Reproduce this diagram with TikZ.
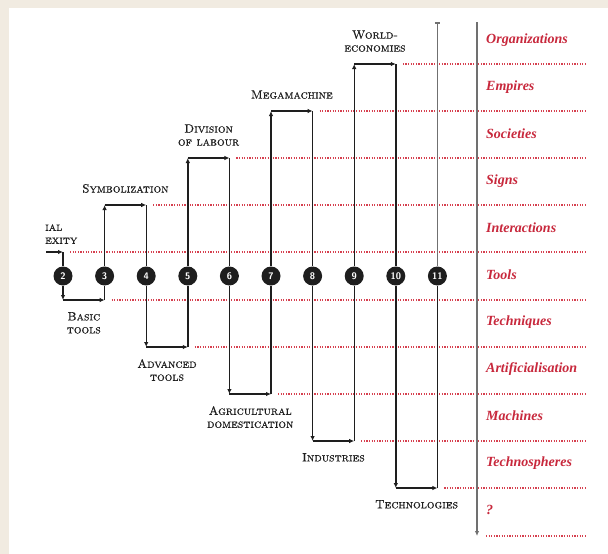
\documentclass[tikz,border=0pt]{standalone}
\usepackage{fontspec}
\usetikzlibrary{arrows.meta,positioning}
\newfontfamily\realmfont{Liberation Serif}
\newfontface\erafont{lmromancaps10-regular}[Extension=.otf, FakeBold=0.6]
\definecolor{paper}{HTML}{F1EBE1}
\definecolor{ink}{HTML}{1E1E1E}
\definecolor{realmred}{HTML}{C8283C}
\definecolor{gridred}{HTML}{D6404F}
\definecolor{axisgray}{HTML}{707070}
\tikzset{
  stage/.style={circle, fill=ink, text=white, minimum size=19pt, inner sep=0pt,
    font=\sffamily\bfseries\fontsize{9.5}{9.5}\selectfont},
  era/.style={font=\erafont\fontsize{12}{13}\selectfont, text=ink, align=center, inner sep=1pt},
  realm/.style={font=\realmfont\bfseries\itshape\fontsize{14}{16}\selectfont, text=realmred,
    anchor=west, inner sep=0pt},
  link/.style={ink, line width=1.4pt},
  linkarrow/.style={link, -{Latex[length=5pt,width=4.5pt]}},
  gridline/.style={gridred, line width=1.2pt, dash pattern=on 1.2pt off 1.4pt},
  axis/.style={axisgray, line width=1.6pt}
}
\begin{document}
\begin{tikzpicture}[x=1pt, y=-1pt]
  % Paper and panel
  \fill[paper] (0,0) rectangle (608,554);
  \fill[white] (9,8) rectangle (608,554);
  \useasboundingbox (0,0) rectangle (608,554);

  % Stages
  \foreach \i in {2,...,11}
    \node[stage] (c\i) at ({63+(\i-2)*41.6}, 276) {\i};

  % Levels above and below the row of stages
  \foreach \k/\y in {0/252,1/205,2/158,3/111,4/64}
    \coordinate (up\k) at (0,\y);
  \foreach \k/\y in {1/300,2/347,3/394,4/441,5/488,6/536}
    \coordinate (lo\k) at (0,\y);
  \coordinate (rim) at (585,0);

  % Dotted guide lines
  \foreach \a/\k in {2/0,4/1,6/2,8/3,10/4}
    \draw[gridline] (c\a |- up\k) ++(7,0) -- (rim |- up\k);
  \foreach \a/\k in {3/1,5/2,7/3,9/4,11/5}
    \draw[gridline] (c\a |- lo\k) ++(7,0) -- (rim |- lo\k);
  \draw[gridline] (486,536) -- (rim |- lo6);

  % Incoming step
  \coordinate (in) at (46,252);
  \draw[linkarrow] (in) -- (c2 |- up0);
  \draw[link] (c2 |- up0) -- (c2);
  \node[era, anchor=south west, align=left] (e12) at (44,245) {ial\\exity};

  % Upper brackets
  \foreach \a/\b/\k in {3/4/1,5/6/2,7/8/3,9/10/4} {
    \draw[linkarrow] (c\a) -- (c\a |- up\k);
    \draw[linkarrow] (c\a |- up\k) -- (c\b |- up\k);
    \draw[link] (c\b |- up\k) -- (c\b);
  }
  % Lower brackets
  \foreach \a/\b/\k in {2/3/1,4/5/2,6/7/3,8/9/4,10/11/5} {
    \draw[linkarrow] (c\a) -- (c\a |- lo\k);
    \draw[linkarrow] (c\a |- lo\k) -- (c\b |- lo\k);
    \draw[link] (c\b |- lo\k) -- (c\b);
  }

  % Stage names
  \path (c3 |- up1) -- (c4 |- up1) node[era, midway, above=11pt] (e34) {Symbolization};
  \path (c5 |- up2) -- (c6 |- up2) node[era, midway, above=11pt] (e56) {Division\\of labour};
  \path (c7 |- up3) -- (c8 |- up3) node[era, midway, above=11pt] (e78) {Megamachine};
  \path (c9 |- up4) -- (c10 |- up4) node[era, midway, above=11pt] (e910) {World-\\economies};
  \path (c2 |- lo1) -- (c3 |- lo1) node[era, midway, below=11pt] (e23) {Basic\\tools};
  \path (c4 |- lo2) -- (c5 |- lo2) node[era, midway, below=11pt] (e45) {Advanced\\tools};
  \path (c6 |- lo3) -- (c7 |- lo3) node[era, midway, below=11pt] (e67) {Agricultural\\domestication};
  \path (c8 |- lo4) -- (c9 |- lo4) node[era, midway, below=11pt] (e89) {Industries};
  \path (c10 |- lo5) -- (c11 |- lo5) node[era, midway, below=11pt] (e1011) {Technologies};

  % Time axis
  \coordinate (axtop) at (477,22);
  \coordinate (axbot) at (477,536);
  \draw[axis, -{Latex[length=5pt,width=4.5pt]}] (axtop) -- (axbot);
  \draw[axis, -{Bar[width=5pt]}] (c11) -- (c11 |- axtop);

  % Realms
  \foreach \t [count=\n from 0] in {Organizations,Empires,Societies,Signs,Interactions,
      Tools,Techniques,Artificialisation,Machines,Technospheres,?}
    \node[realm] (r\n) at (486, {40+47*\n}) {\t};
\end{tikzpicture}
\end{document}
